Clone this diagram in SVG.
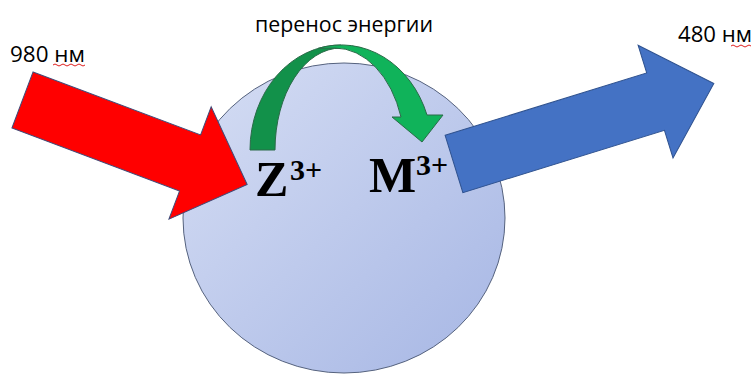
<svg xmlns="http://www.w3.org/2000/svg" width="753" height="376" viewBox="0 0 753 376">
<defs>
<linearGradient id="ballGrad" x1="0" y1="0" x2="1" y2="1">
<stop offset="0" stop-color="#d6def4"/>
<stop offset="1" stop-color="#a6b6e4"/>
</linearGradient>
</defs>
<style>
.lbl{font-family:"Open Sans","Liberation Sans",sans-serif;font-size:21px;fill:#000}
.ion{font-family:"Liberation Serif","Times New Roman",serif;font-weight:bold;fill:#000}
.sq{fill:none;stroke:#e02020;stroke-width:1}
</style>
<rect width="753" height="376" fill="#fff"/>
<g id="particle">
<ellipse cx="344" cy="218" rx="161" ry="155" fill="url(#ballGrad)" stroke="#55627e" stroke-width="1"/>
</g>
<g id="connectors">
<g id="transfer-arrow">
<path d="M250,150 A91,105 0 0 1 341,45 L341,48 A66,102 0 0 0 275,150 Z" fill="#12914a" stroke="#2a6b48" stroke-width="1"/>
<path d="M318,48.4 A91,105 0 0 1 427,115 L443,115 L422,142 L392,117 L401,117 A70,102 0 0 0 335,48 Z" fill="#10b35a" stroke="#2a6b48" stroke-width="1"/>
</g>
</g>
<g id="ions">
<text class="ion" x="255" y="196" font-size="50">Z</text>
<text class="ion" x="290" y="180" font-size="30">3+</text>
<text class="ion" x="369" y="192" font-size="50">M</text>
<text class="ion" x="416" y="175" font-size="30">3+</text>
</g>
<g id="connectors-io">
<g id="excitation-arrow">
<polygon transform="translate(22.5,100) rotate(20.6)" points="0,-30 179,-30 179,-60 240,0 179,60 179,30 0,30" fill="#ff0000" stroke="#3f4a78" stroke-width="1"/>
</g>
<g id="emission-arrow">
<polygon transform="translate(454,164) rotate(-17.2)" points="0,-30 211,-30 211,-59 272,0 211,59 211,30 0,30" fill="#4472c4" stroke="#2f528f" stroke-width="1"/>
</g>
</g>
<g id="labels">
<text class="lbl" x="255" y="32" textLength="178" lengthAdjust="spacingAndGlyphs">перенос энергии</text>
<text class="lbl" x="10" y="62" textLength="75" lengthAdjust="spacingAndGlyphs">980 нм</text>
<text class="lbl" x="678" y="42" textLength="74" lengthAdjust="spacingAndGlyphs">480 нм</text>
<path class="sq" d="M53,65 q2,-2 4,0 t4,0 t4,0 t4,0 t4,0 t4,0 t4,0 t4,0"/>
<path class="sq" d="M731,46 q2,-2 4,0 t4,0 t4,0 t4,0 t4,0"/>
</g>
</svg>
